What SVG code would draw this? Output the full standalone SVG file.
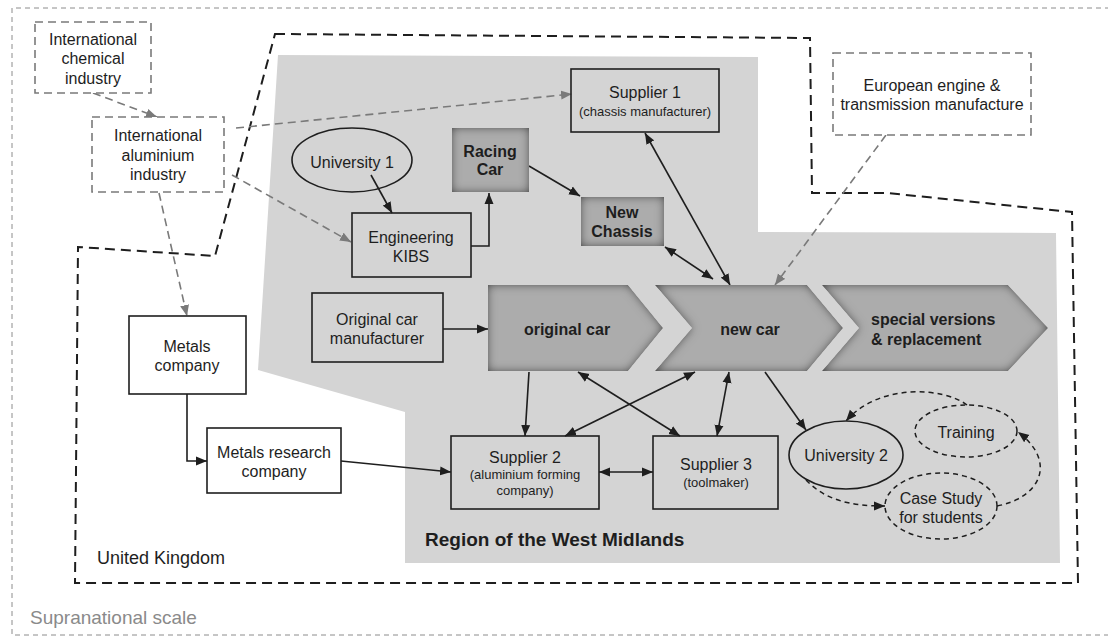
<svg xmlns="http://www.w3.org/2000/svg" width="1108" height="637" viewBox="0 0 1108 637">
<style>
text{font-family:"Liberation Sans",Arial,sans-serif;fill:#1e1e1e;text-anchor:middle;font-size:16px}
.s{font-size:13px}
.b{font-weight:bold}
.box{fill:none;stroke:#1e1e1e;stroke-width:1.6}
.wbox{fill:#fff;stroke:#1e1e1e;stroke-width:1.6}
.gd{fill:#fff;stroke:#7a7a7a;stroke-width:1.6;stroke-dasharray:8 5}
.dk{fill:#acacac;stroke:none;filter:url(#inner)}
.dell{fill:none;stroke:#1e1e1e;stroke-width:1.5;stroke-dasharray:5 4}
.c{fill:none;stroke:#1e1e1e;stroke-width:1.6}
.cg{fill:none;stroke:#7a7a7a;stroke-width:1.6;stroke-dasharray:8 5}
.cd{fill:none;stroke:#1e1e1e;stroke-width:1.5;stroke-dasharray:5 4}
</style>
<defs>
<marker id="a" markerUnits="userSpaceOnUse" markerWidth="12" markerHeight="10" refX="11" refY="5" orient="auto-start-reverse" viewBox="0 0 12 10"><path d="M0,0.5 L11,5 L0,9.5 z" fill="#1e1e1e"/></marker>
<marker id="ag" markerUnits="userSpaceOnUse" markerWidth="12" markerHeight="10" refX="11" refY="5" orient="auto" viewBox="0 0 12 10"><path d="M0,0.5 L11,5 L0,9.5 z" fill="#7a7a7a"/></marker>
<filter id="inner" x="-10%" y="-10%" width="120%" height="120%">
<feGaussianBlur in="SourceAlpha" stdDeviation="5" result="blur"/>
<feComposite in="SourceAlpha" in2="blur" operator="arithmetic" k2="1" k3="-1" result="edge"/>
<feFlood flood-color="#000" flood-opacity="0.95"/>
<feComposite in2="edge" operator="in" result="sh"/>
<feMerge><feMergeNode in="SourceGraphic"/><feMergeNode in="sh"/></feMerge>
</filter>
</defs>
<rect width="1108" height="637" fill="#fff"/>
<g id="supranational">
<path d="M1110,8 L12,8 L12,635 L1110,635" fill="none" stroke="#8c8c8c" stroke-width="1" stroke-dasharray="5 4"/>
<text x="30" y="624" style="text-anchor:start;font-size:19px;fill:#8a8a8a">Supranational scale</text>
</g>
<g id="uk">
<path d="M275,34 L810,38 L812,193 L887,193 L1072,212 L1078,583 L75,583 L78,247 L215,256 Z" fill="none" stroke="#1e1e1e" stroke-width="2" stroke-dasharray="10 6"/>
<text x="97" y="564" style="text-anchor:start;font-size:18px">United Kingdom</text>
</g>
<g id="west-midlands">
<path d="M278,55 L758,57 L758,232 L1056,233 L1060,563 L405,563 L405,412 L258,370 Z" fill="#d4d4d4"/>
<text x="425" y="546" class="b" style="text-anchor:start;font-size:19px">Region of the West Midlands</text>
</g>
<g id="connectors">
<path class="cg" d="M93,93 L157,117" marker-end="url(#ag)"/>
<path class="cg" d="M236,128 L572,94" marker-end="url(#ag)"/>
<path class="cg" d="M232,175 L351,242" marker-end="url(#ag)"/>
<path class="cg" d="M159,193 L187,316" marker-end="url(#ag)"/>
<path class="cg" d="M886,135 L775,285" marker-end="url(#ag)"/>
<path class="c" d="M371,175 L392,213" marker-end="url(#a)"/>
<path class="c" d="M471,246 L489,246 L489,193" marker-end="url(#a)"/>
<path class="c" d="M529,166 L580,196" marker-end="url(#a)"/>
<path class="c" d="M665,247 L713,279" marker-start="url(#a)" marker-end="url(#a)"/>
<path class="c" d="M645,133 L730,285" marker-start="url(#a)" marker-end="url(#a)"/>
<path class="c" d="M443,329 L488,329" marker-end="url(#a)"/>
<path class="c" d="M529,372 L525,436" marker-end="url(#a)"/>
<path class="c" d="M578,372 L680,436" marker-start="url(#a)" marker-end="url(#a)"/>
<path class="c" d="M695,372 L565,436" marker-start="url(#a)" marker-end="url(#a)"/>
<path class="c" d="M729,372 L717,436" marker-start="url(#a)" marker-end="url(#a)"/>
<path class="c" d="M599,472 L653,472" marker-start="url(#a)" marker-end="url(#a)"/>
<path class="c" d="M341,461 L451,472" marker-end="url(#a)"/>
<path class="c" d="M187,394 L187,461 L207,461" marker-end="url(#a)"/>
<path class="c" d="M765,372 L806,430" marker-end="url(#a)"/>
<path class="cd" d="M967,405 C945,388 880,382 846,421" marker-end="url(#a)"/>
<path class="cd" d="M806,480 C825,500 850,506 885,506" marker-end="url(#a)"/>
<path class="cd" d="M997,506 C1040,498 1058,462 1018,432" marker-end="url(#a)"/>
</g>
<g id="intl-chemical"><rect class="gd" x="35" y="22" width="116" height="71"/><text x="93" y="45">International</text><text x="93" y="64">chemical</text><text x="93" y="84">industry</text></g>
<g id="intl-aluminium"><rect class="gd" x="92" y="117" width="132" height="75"/><text x="158" y="141">International</text><text x="158" y="161">aluminium</text><text x="158" y="180">industry</text></g>
<g id="european"><rect class="gd" x="833" y="53" width="198" height="82"/><text x="932" y="91">European engine &amp;</text><text x="932" y="110">transmission manufacture</text></g>
<g id="university1"><ellipse class="box" cx="352" cy="160" rx="60" ry="32"/><text x="352" y="168">University 1</text></g>
<g id="engineering-kibs"><rect class="box" x="352" y="213" width="119" height="64"/><text x="411" y="243">Engineering</text><text x="411" y="262">KIBS</text></g>
<g id="racing-car"><rect class="dk" x="452" y="128" width="77" height="64"/><text class="b" x="490" y="157">Racing</text><text class="b" x="490" y="175">Car</text></g>
<g id="new-chassis"><rect class="dk" x="581" y="197" width="83" height="49"/><text class="b" x="622" y="218">New</text><text class="b" x="622" y="237">Chassis</text></g>
<g id="supplier1"><rect class="box" x="571" y="69" width="148" height="63"/><text x="645" y="98">Supplier 1</text><text class="s" x="645" y="116">(chassis manufacturer)</text></g>
<g id="metals-company"><rect class="wbox" x="129" y="316" width="117" height="78"/><text x="187" y="352">Metals</text><text x="187" y="371">company</text></g>
<g id="metals-research"><rect class="wbox" x="207" y="428" width="134" height="65"/><text x="274" y="458">Metals research</text><text x="274" y="477">company</text></g>
<g id="original-car-manufacturer"><rect class="box" x="312" y="293" width="131" height="69"/><text x="377" y="325">Original car</text><text x="377" y="344">manufacturer</text></g>
<g id="original-car"><path class="dk" d="M488,285 L628,285 L663,328 L628,371 L488,371 Z"/><text class="b" x="567" y="335">original car</text></g>
<g id="new-car"><path class="dk" d="M655,285 L807,285 L843,328 L807,371 L655,371 L692,328 Z"/><text class="b" x="750" y="335">new car</text></g>
<g id="special-versions"><path class="dk" d="M822,285 L1008,285 L1048,328 L1008,371 L822,371 L859,328 Z"/><text class="b" x="871" y="325" style="text-anchor:start">special versions</text><text class="b" x="871" y="345" style="text-anchor:start">&amp; replacement</text></g>
<g id="supplier2"><rect class="box" x="451" y="436" width="148" height="73"/><text x="525" y="463">Supplier 2</text><text class="s" x="525" y="479">(aluminium forming</text><text class="s" x="525" y="495">company)</text></g>
<g id="supplier3"><rect class="box" x="653" y="436" width="125" height="73"/><text x="716" y="470">Supplier 3</text><text class="s" x="716" y="487">(toolmaker)</text></g>
<g id="university2"><ellipse class="box" cx="846" cy="455" rx="57" ry="34"/><text x="846" y="461">University 2</text></g>
<g id="training"><ellipse class="dell" cx="966" cy="431" rx="51" ry="26"/><text x="966" y="438">Training</text></g>
<g id="case-study"><ellipse class="dell" cx="941" cy="506" rx="56" ry="33"/><text x="941" y="504">Case Study</text><text x="941" y="523">for students</text></g>
</svg>
